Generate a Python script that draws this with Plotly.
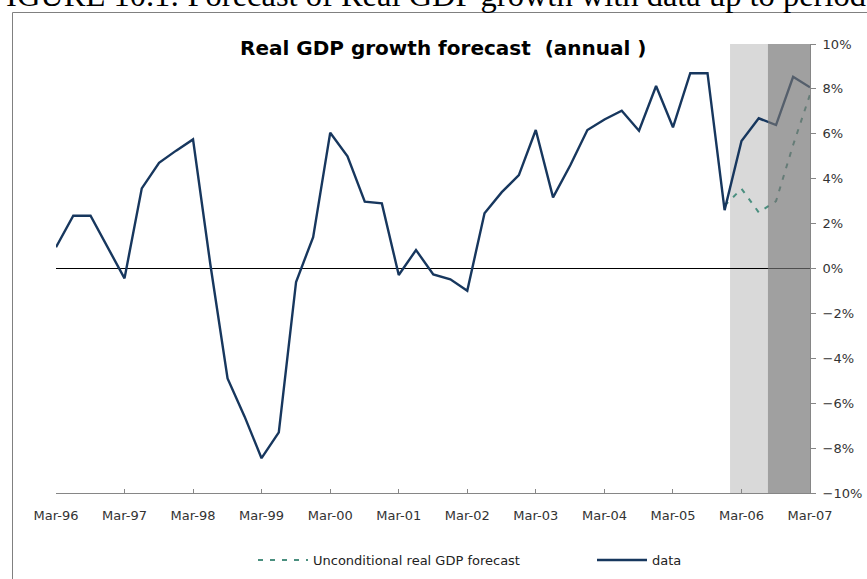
import plotly.graph_objects as go

# ---- data ----
quarters = [
    "1996-03-01", "1996-06-01", "1996-09-01", "1996-12-01",
    "1997-03-01", "1997-06-01", "1997-09-01", "1997-12-01",
    "1998-03-01", "1998-06-01", "1998-09-01", "1998-12-01",
    "1999-03-01", "1999-06-01", "1999-09-01", "1999-12-01",
    "2000-03-01", "2000-06-01", "2000-09-01", "2000-12-01",
    "2001-03-01", "2001-06-01", "2001-09-01", "2001-12-01",
    "2002-03-01", "2002-06-01", "2002-09-01", "2002-12-01",
    "2003-03-01", "2003-06-01", "2003-09-01", "2003-12-01",
    "2004-03-01", "2004-06-01", "2004-09-01", "2004-12-01",
    "2005-03-01", "2005-06-01", "2005-09-01", "2005-12-01",
    "2006-03-01", "2006-06-01", "2006-09-01", "2006-12-01",
    "2007-03-01",
]
gdp_growth = [
    0.95, 2.35, 2.35, 0.97,
    -0.44, 3.57, 4.71, 5.25,
    5.75, 0.2, -4.9, -6.6,
    -8.45, -7.3, -0.6, 1.4,
    6.05, 5.0, 2.98, 2.9,
    -0.29, 0.82, -0.26, -0.48,
    -0.99, 2.46, 3.4, 4.16,
    6.17, 3.17, 4.6, 6.17,
    6.64, 7.03, 6.14, 8.13,
    6.29, 8.7, 8.7, 2.6,
    5.68, 6.69, 6.39, 8.54,
    8.07,
]
forecast_quarters = ["2005-12-01", "2006-03-01", "2006-06-01", "2006-09-01",
                     "2006-12-01", "2007-03-01"]
forecast_values = [2.8, 3.55, 2.5, 3.0, 5.5, 7.75]

light_band = ["2005-12-30", "2006-07-20"]
dark_band = ["2006-07-20", "2007-03-01"]

title_text = "Real GDP growth forecast  (annual )"
caption_text = "FIGURE 10.1: Forecast of Real GDP growth with data up to period"

W, H = 867, 579
PLOT_L, PLOT_R, PLOT_T, PLOT_B = 56, 810, 44, 493


def px_x(p):
    return p / W


def px_y(p):
    return 1 - p / H


fig = go.Figure()

fig.add_trace(go.Scatter(
    x=forecast_quarters, y=[v / 100 for v in forecast_values],
    mode="lines", name="Unconditional real GDP forecast",
    line=dict(color="#4a8f7f", width=2, dash="5px,7px"),
))
fig.add_trace(go.Scatter(
    x=quarters, y=[v / 100 for v in gdp_growth],
    mode="lines", name="data",
    line=dict(color="#17375E", width=2.4),
))

fig.add_shape(type="rect", xref="x", yref="y domain",
              x0=light_band[0], x1=light_band[1], y0=0, y1=1,
              fillcolor="#D9D9D9", line=dict(width=0), layer="below")
fig.add_shape(type="rect", xref="x", yref="y domain",
              x0=dark_band[0], x1=dark_band[1], y0=0, y1=1,
              fillcolor="rgba(115,115,115,0.68)", line=dict(width=0), layer="above")

# chart frame (left and top edges; right and bottom lie off the page)
fig.add_shape(type="line", xref="paper", yref="paper",
              x0=px_x(12.5), x1=px_x(12.5), y0=0, y1=px_y(12.5),
              line=dict(color="#808080", width=1), layer="above")
fig.add_shape(type="line", xref="paper", yref="paper",
              x0=px_x(12.5), x1=1, y0=px_y(12.5), y1=px_y(12.5),
              line=dict(color="#808080", width=1), layer="above")

fig.add_annotation(text=title_text, xref="paper", yref="paper",
                   x=px_x(443), y=px_y(48), xanchor="center", yanchor="middle",
                   showarrow=False,
                   font=dict(family="DejaVu Sans", size=20, color="#000000", weight="bold"))

fig.add_annotation(text=caption_text, xref="paper", yref="paper",
                   x=px_x(868), y=px_y(-5), xanchor="right", yanchor="middle",
                   showarrow=False,
                   font=dict(family="Liberation Serif", size=32.5, color="#000000"))

fig.update_layout(
    width=W, height=H,
    margin=dict(l=0, r=0, t=0, b=0, autoexpand=False),
    paper_bgcolor="white", plot_bgcolor="white",
    font=dict(family="DejaVu Sans", size=13, color="#333333"),
    showlegend=True,
    legend=dict(orientation="h", x=px_x(253), y=px_y(560), xanchor="left", yanchor="middle",
                itemwidth=50, entrywidth=274, entrywidthmode="pixels",
                font=dict(family="DejaVu Sans", size=13, color="#222222"),
                bgcolor="rgba(0,0,0,0)"),
    xaxis=dict(
        domain=[px_x(PLOT_L), px_x(PLOT_R)],
        type="date", range=["1996-03-01", "2007-03-01"],
        tick0="1996-03-01", dtick="M12", tickformat="%b-%y",
        showgrid=False, zeroline=False,
        showline=True, linecolor="#868686", linewidth=1,
        ticks="inside", ticklen=4, tickcolor="#868686",
        tickfont=dict(family="DejaVu Sans", size=13, color="#333333"),
        ticklabelstandoff=10,
    ),
    yaxis=dict(
        domain=[px_y(PLOT_B), px_y(PLOT_T)],
        side="right", range=[-0.10, 0.10], dtick=0.02, tickformat=".0%",
        showgrid=False,
        zeroline=True, zerolinecolor="#000000", zerolinewidth=1,
        showline=True, linecolor="#868686", linewidth=1,
        ticks="outside", ticklen=5, tickcolor="#868686",
        tickfont=dict(family="DejaVu Sans", size=13, color="#333333"),
        ticklabelstandoff=4,
    ),
)

fig.write_html("out.html")
